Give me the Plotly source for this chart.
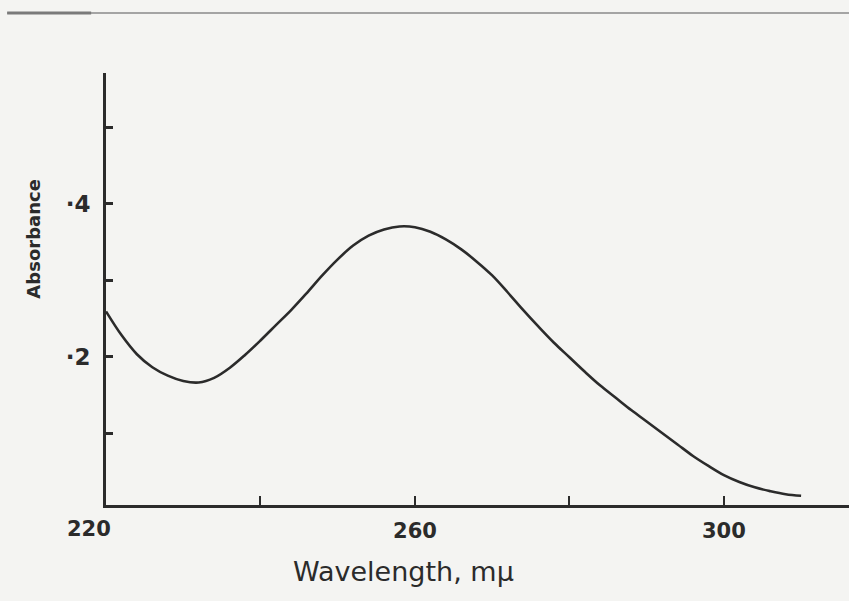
import plotly.graph_objects as go

# Absorption spectrum (wavelength in millimicrons vs absorbance)
wavelength = [220, 222, 224, 226, 228, 230, 232, 234, 236, 238, 240, 242, 244,
              246, 248, 250, 252, 254, 256, 258, 260, 262, 264, 266, 268, 270,
              272, 274, 276, 278, 280, 282, 284, 286, 288, 290, 292, 294, 296,
              298, 300, 302, 304, 306, 308, 310]
absorbance = [0.259, 0.228, 0.203, 0.186, 0.175, 0.168, 0.166, 0.172, 0.185,
              0.202, 0.221, 0.241, 0.261, 0.283, 0.306, 0.327, 0.345, 0.358,
              0.366, 0.370, 0.369, 0.363, 0.353, 0.340, 0.324, 0.306, 0.284,
              0.261, 0.239, 0.218, 0.199, 0.180, 0.162, 0.146, 0.130, 0.115,
              0.100, 0.085, 0.070, 0.057, 0.045, 0.036, 0.029, 0.024, 0.020,
              0.018]

x_ticks = [220, 240, 260, 280, 300]
x_tick_text = ["", "", "260", "", "300"]
origin_label = "220"
y_ticks = [0.1, 0.2, 0.3, 0.4, 0.5]
y_tick_text = ["", "\u00b72", "", "\u00b74", ""]

ink = "#2b2b2b"
paper = "#f4f4f2"

fig = go.Figure()
fig.add_trace(go.Scatter(
    x=wavelength, y=absorbance, mode="lines",
    line=dict(color=ink, width=2.6, shape="spline", smoothing=1.0),
    hoverinfo="skip", showlegend=False,
))

fig.update_layout(
    width=849, height=601,
    margin=dict(l=106, r=0, t=73, b=96),
    paper_bgcolor=paper, plot_bgcolor=paper,
    font=dict(family="DejaVu Sans", color=ink),
    xaxis=dict(
        range=[220, 316.2], showgrid=False, zeroline=False,
        showline=True, linecolor=ink, linewidth=2.5,
        tickmode="array", tickvals=x_ticks, ticktext=x_tick_text,
        ticks="inside", ticklen=9, tickwidth=2, tickcolor=ink,
        tickfont=dict(size=21, weight="bold", color=ink),
        ticklabelstandoff=5,
    ),
    yaxis=dict(
        range=[0.0059, 0.5706], showgrid=False, zeroline=False,
        showline=True, linecolor=ink, linewidth=3,
        tickmode="array", tickvals=y_ticks, ticktext=y_tick_text,
        ticks="inside", ticklen=7, tickwidth=3, tickcolor=ink,
        tickfont=dict(size=23, weight="bold", color=ink),
        ticklabelstandoff=8,
    ),
    annotations=[
        # label for the origin of the wavelength axis, set just left of the corner
        dict(text=origin_label, xref="x", yref="paper",
             x=220, y=-0.024, xshift=-17, xanchor="center", yanchor="top",
             showarrow=False,
             font=dict(size=21, weight="bold", color=ink)),
        dict(text="Wavelength, m\u00b5", xref="paper", yref="paper",
             x=(403 - 106) / 743, y=-0.155, xanchor="center", yanchor="middle",
             showarrow=False, font=dict(size=27, color=ink)),
        dict(text="Absorbance", xref="paper", yref="y",
             x=-0.097, y=0.354, xanchor="center", yanchor="middle",
             textangle=-90, showarrow=False,
             font=dict(size=18, weight="bold", color=ink)),
    ],
    shapes=[
        # page rule across the top
        dict(type="line", xref="paper", yref="paper",
             x0=-0.133, x1=1.0, y0=1.139, y1=1.139,
             line=dict(color="#8a8a8a", width=1.5)),
        dict(type="line", xref="paper", yref="paper",
             x0=-0.133, x1=-0.02, y0=1.139, y1=1.139,
             line=dict(color="#7a7a7a", width=3)),
    ],
)

fig.write_html("out.html")
